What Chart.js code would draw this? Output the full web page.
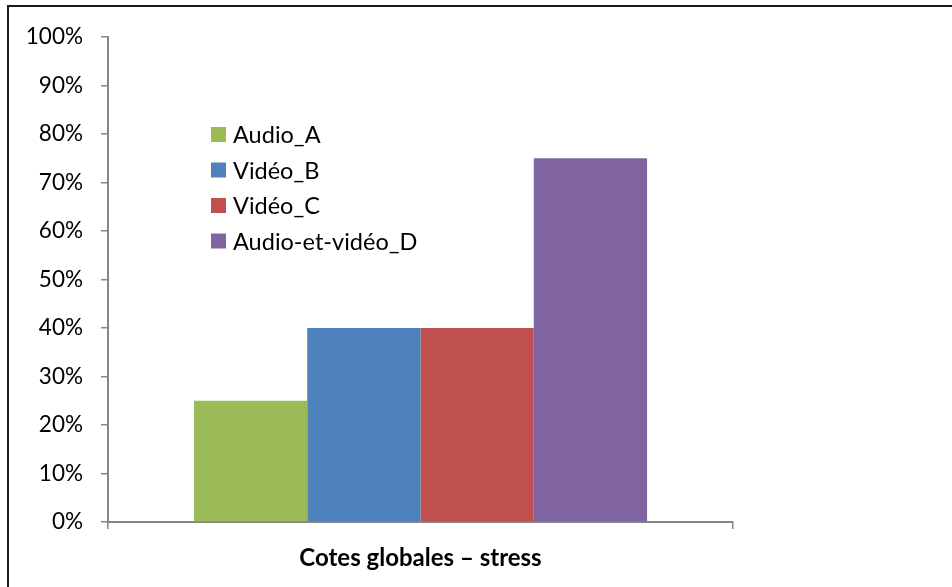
<!DOCTYPE html>
<html>
<head>
<meta charset="utf-8">
<script src="https://cdn.jsdelivr.net/npm/chart.js@4.4.0/dist/chart.umd.min.js"></script>
<style>
  html, body { margin: 0; padding: 0; background: #fff; overflow: hidden; }
  #wrap { position: relative; width: 952px; height: 587px; }
  #frame { position: absolute; left: 7px; top: 5px; width: 960px; height: 600px; border: 2px solid #1a1a1a; box-sizing: border-box; pointer-events: none; }
  canvas { position: absolute; left: 0; top: 0; }
</style>
</head>
<body>
<div id="wrap">
  <canvas id="c" width="952" height="587"></canvas>
  <div id="frame"></div>
</div>
<script>
const categories = ["Cotes globales \u2013 stress"];
const seriesNames = ["Audio_A", "Vid\u00e9o_B", "Vid\u00e9o_C", "Audio-et-vid\u00e9o_D"];
const seriesValues = [[25], [40], [40], [75]];
const seriesColors = ["#9BBB59", "#4F81BD", "#C0504D", "#8064A2"];
const yTicks = [0, 10, 20, 30, 40, 50, 60, 70, 80, 90, 100];

const FONT = "Lato, 'Open Sans', sans-serif";

const insideLegend = {
  id: 'insideLegend',
  afterDraw(chart) {
    const ctx = chart.ctx;
    const x0 = 211, y0 = 134.5, step = 35.5, box = 15;
    ctx.save();
    ctx.font = "23.5px " + FONT;
    ctx.textBaseline = 'middle';
    ctx.textAlign = 'left';
    chart.data.datasets.forEach((ds, i) => {
      const cy = y0 + i * step;
      ctx.fillStyle = ds.backgroundColor;
      ctx.fillRect(x0, cy - box / 2, box, box);
      ctx.fillStyle = '#000';
      ctx.fillText(ds.label, x0 + 22, cy + 1);
    });
    ctx.restore();
  }
};

new Chart(document.getElementById('c'), {
  type: 'bar',
  data: {
    labels: categories,
    datasets: seriesNames.map((n, i) => ({
      label: n,
      data: seriesValues[i],
      backgroundColor: seriesColors[i],
      borderColor: seriesColors[i],
      borderWidth: 0,
      categoryPercentage: 0.725,
      barPercentage: 1.0
    }))
  },
  options: {
    responsive: false,
    animation: false,
    layout: { padding: { left: 0, top: 37, right: 219, bottom: 0 } },
    plugins: { legend: { display: false }, tooltip: { enabled: false } },
    scales: {
      x: {
        offset: true,
        grid: { display: true, offset: true, drawOnChartArea: false, color: '#868686', lineWidth: 1.5, tickLength: 7 },
        border: { display: true, color: '#868686', width: 2 },
        ticks: { color: '#000', font: { family: FONT, size: 24, weight: 'bold' }, padding: 15 },
        afterFit(scale) { scale.height = 65; }
      },
      y: {
        min: 0, max: 100,
        afterBuildTicks(scale) { scale.ticks = yTicks.map(v => ({ value: v })); },
        grid: { display: true, drawOnChartArea: false, color: '#868686', lineWidth: 1.5, tickLength: 7 },
        border: { display: true, color: '#868686', width: 2 },
        ticks: { color: '#000', font: { family: FONT, size: 22.5 }, padding: 18, callback: v => v + '%' },
        afterFit(scale) { scale.width = 108; }
      }
    }
  },
  plugins: [insideLegend]
});
</script>
</body>
</html>
